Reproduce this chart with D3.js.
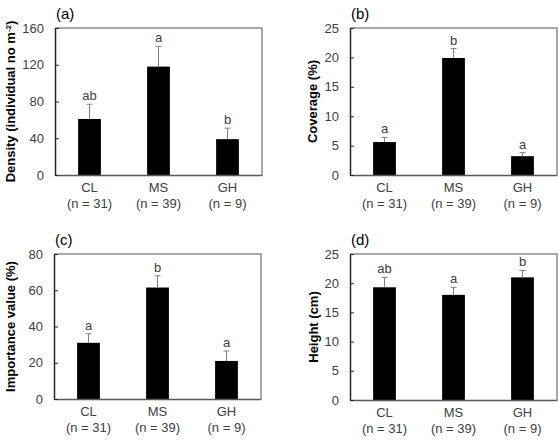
<!DOCTYPE html>
<html><head><meta charset="utf-8">
<script src="https://cdn.jsdelivr.net/npm/d3@7"></script>
<style>body{margin:0;background:#fff}svg{display:block}text{font-family:"Liberation Sans",Arial,sans-serif}</style>
</head><body><svg id="c" width="559" height="444"></svg>
<script>
const categories = ["CL","MS","GH"];
const sampleSizes = ["(n = 31)","(n = 39)","(n = 9)"];
const densityMean = [61, 118, 39];
const densityErr = [16, 22, 12];
const densityLetters = ["ab","a","b"];
const coverageMean = [5.6, 19.9, 3.2];
const coverageErr = [0.8, 1.6, 0.6];
const coverageLetters = ["a","b","a"];
const importanceMean = [31, 61.5, 21];
const importanceErr = [5, 6.5, 5.5];
const importanceLetters = ["a","b","a"];
const heightMean = [19.3, 18, 21];
const heightErr = [1.7, 1.3, 1.2];
const heightLetters = ["ab","a","b"];
const densityTicks = [0,40,80,120,160];
const coverageTicks = [0,5,10,15,20,25];
const importanceTicks = [0,20,40,60,80];
const heightTicks = [0,5,10,15,20,25];

const panels = [
  {tag:"(a)", x0:55, x1:262, y0:28, y1:175, max:160, ticks:densityTicks, mean:densityMean, err:densityErr, letters:densityLetters, ytitle:"Density (individual no m", sup:"-2", ytx:10},
  {tag:"(b)", x0:350, x1:557, y0:28, y1:175, max:25, ticks:coverageTicks, mean:coverageMean, err:coverageErr, letters:coverageLetters, ytitle:"Coverage (%)", ytx:312},
  {tag:"(c)", x0:54, x1:261, y0:254, y1:399, max:80, ticks:importanceTicks, mean:importanceMean, err:importanceErr, letters:importanceLetters, ytitle:"Importance value (%)", ytx:10},
  {tag:"(d)", x0:350, x1:557, y0:254, y1:400, max:25, ticks:heightTicks, mean:heightMean, err:heightErr, letters:heightLetters, ytitle:"Height (cm)", ytx:313}
];
const svg = d3.select("#c");
const txt = "#404040";
const ff = "Liberation Sans, Arial, sans-serif";
panels.forEach(p => {
  const g = svg.append("g");
  const x = d3.scaleBand().domain(categories).range([p.x0, p.x1]).paddingInner(0.67).paddingOuter(0.335);
  const y = d3.scaleLinear().domain([0, p.max]).range([p.y1, p.y0]);
  g.append("path").attr("d", `M${p.x0},${p.y0}H${p.x1}V${p.y1}`).attr("fill","none").attr("stroke","#8c8c8c").attr("stroke-width",1.5);
  categories.forEach((c,i) => {
    g.append("rect").attr("x", x(c)).attr("width", x.bandwidth()).attr("y", y(p.mean[i])).attr("height", y(0)-y(p.mean[i])).attr("fill","#000");
    const cx = x(c) + x.bandwidth()/2;
    const top = y(p.mean[i]+p.err[i]);
    g.append("line").attr("x1",cx).attr("x2",cx).attr("y1",y(p.mean[i])).attr("y2",top).attr("stroke","#7f7f7f").attr("stroke-width",1);
    g.append("line").attr("x1",cx-3).attr("x2",cx+3).attr("y1",top).attr("y2",top).attr("stroke","#7f7f7f").attr("stroke-width",1);
    g.append("text").attr("x",cx).attr("y",top-4).attr("text-anchor","middle").attr("font-size",13).attr("fill",txt).text(p.letters[i]);
  });
  const xa = g.append("g").attr("transform",`translate(0,${p.y1})`).call(d3.axisBottom(x).tickSize(0).tickPadding(8));
  xa.select(".domain").attr("stroke","#595959").attr("stroke-width",1.5);
  xa.selectAll(".tick text").attr("font-size",13).attr("fill",txt).attr("font-family",ff);
  xa.selectAll(".tick").append("text").attr("y",24).attr("dy","0.71em").attr("text-anchor","middle").attr("font-size",13).attr("fill",txt).attr("font-family",ff).text((d,i)=>sampleSizes[i]);
  const ya = g.append("g").attr("transform",`translate(${p.x0},0)`).call(d3.axisLeft(y).tickValues(p.ticks).tickSize(-4).tickSizeOuter(0).tickPadding(11));
  ya.select(".domain").attr("stroke","#262626").attr("stroke-width",1.5);
  ya.selectAll(".tick line").attr("stroke","#262626");
  ya.selectAll(".tick text").attr("font-size",13).attr("fill",txt).attr("font-family",ff);
  const yc = (p.y0+p.y1)/2;
  const t = g.append("text").attr("transform",`translate(${p.ytx},${yc}) rotate(-90)`).attr("text-anchor","middle").attr("dy","0.35em").attr("font-size",13).attr("font-weight","bold").attr("fill","#000").text(p.ytitle);
  if (p.sup) { t.append("tspan").attr("baseline-shift","super").attr("font-size",8).text(p.sup); t.append("tspan").text(")"); }
  g.append("text").attr("x",p.x0+1).attr("y",p.y0-9).attr("font-size",15).attr("fill","#000").text(p.tag);
});
</script></body></html>
